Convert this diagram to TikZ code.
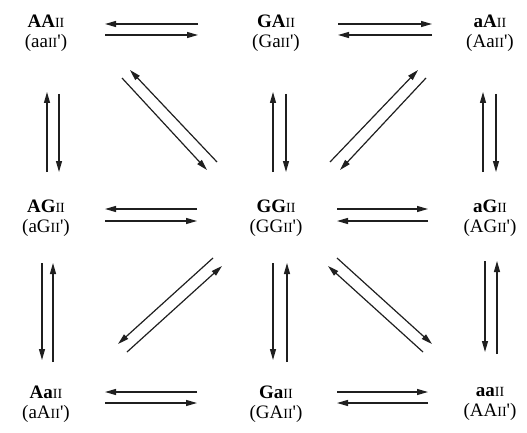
\documentclass[tikz,border=0pt]{standalone}
\usepackage{fontspec}
\setmainfont{Liberation Serif}
\usetikzlibrary{calc,arrows.meta}
% small capitals stand-in for the roman-numeral suffix
\newcommand{\rn}[1]{{\fontsize{14}{14}\selectfont #1}}
\newcommand{\pr}{\textquotesingle}
\tikzset{
  state/.style={align=center, inner sep=0pt, font=\fontsize{19}{20}\selectfont},
  rx/.style={draw=black!88, line width=1.2pt,
    -{Triangle[length=11pt,width=6pt]}}
}
\begin{document}
\begin{tikzpicture}[x=1pt,y=-1pt]
\useasboundingbox (0,0) rectangle (527,433);

% genotype states
\node[state] (AA) at (46,33)  {\textbf{AA}\rn{II}\\(aa\rn{II}\pr)};
\node[state] (GA) at (276,33) {\textbf{GA}\rn{II}\\(Ga\rn{II}\pr)};
\node[state] (aA) at (490,33) {\textbf{aA}\rn{II}\\(Aa\rn{II}\pr)};
\node[state] (AG) at (46,218) {\textbf{AG}\rn{II}\\(aG\rn{II}\pr)};
\node[state] (GG) at (276,218){\textbf{GG}\rn{II}\\(GG\rn{II}\pr)};
\node[state] (aG) at (490,218){\textbf{aG}\rn{II}\\(AG\rn{II}\pr)};
\node[state] (Aa) at (46,404) {\textbf{Aa}\rn{II}\\(aA\rn{II}\pr)};
\node[state] (Ga) at (276,404){\textbf{Ga}\rn{II}\\(GA\rn{II}\pr)};
\node[state] (aa) at (490,404){\textbf{aa}\rn{II}\\(AA\rn{II}\pr)};

% top row
\draw[rx] ($(GA)+(-78,-9)$) -- ($(AA)+(59,-9)$);
\draw[rx] ($(AA)+(59,2)$)   -- ($(GA)+(-78,2)$);
\draw[rx] ($(GA)+(62,-9)$)  -- ($(aA)+(-58,-9)$);
\draw[rx] ($(aA)+(-58,2)$)  -- ($(GA)+(62,2)$);

% middle row
\draw[rx] ($(GG)+(-79,-9)$) -- ($(AG)+(59,-9)$);
\draw[rx] ($(AG)+(59,3)$)   -- ($(GG)+(-79,3)$);
\draw[rx] ($(GG)+(61,-9)$)  -- ($(aG)+(-62,-9)$);
\draw[rx] ($(aG)+(-62,3)$)  -- ($(GG)+(61,3)$);

% bottom row
\draw[rx] ($(Ga)+(-79,-12)$) -- ($(Aa)+(59,-12)$);
\draw[rx] ($(Aa)+(59,-1)$)   -- ($(Ga)+(-79,-1)$);
\draw[rx] ($(Ga)+(61,-12)$)  -- ($(aa)+(-62,-12)$);
\draw[rx] ($(aa)+(-62,-1)$)  -- ($(Ga)+(61,-1)$);

% upper verticals
\draw[rx] ($(AG)+(1,-46)$)  -- ($(AA)+(1,59)$);
\draw[rx] ($(AA)+(13,61)$)  -- ($(AG)+(13,-46)$);
\draw[rx] ($(GG)+(-3,-46)$) -- ($(GA)+(-3,59)$);
\draw[rx] ($(GA)+(10,61)$)  -- ($(GG)+(10,-46)$);
\draw[rx] ($(aG)+(-7,-46)$) -- ($(aA)+(-7,59)$);
\draw[rx] ($(aA)+(6,61)$)   -- ($(aG)+(6,-46)$);

% lower verticals
\draw[rx] ($(AG)+(-4,45)$)  -- ($(Aa)+(-4,-44)$);
\draw[rx] ($(Aa)+(7,-42)$)  -- ($(AG)+(7,45)$);
\draw[rx] ($(GG)+(-3,45)$)  -- ($(Ga)+(-3,-44)$);
\draw[rx] ($(Ga)+(11,-42)$) -- ($(GG)+(11,45)$);
\draw[rx] ($(aG)+(-5,43)$)  -- ($(aa)+(-5,-52)$);
\draw[rx] ($(aa)+(7,-50)$)  -- ($(aG)+(7,43)$);

% diagonals
\draw[rx] ($(AA)+(76,45)$)  -- ($(GG)+(-69,-48)$);
\draw[rx] ($(GG)+(-59,-56)$) -- ($(AA)+(84,37)$);
\draw[rx] ($(GG)+(54,-56)$) -- ($(aA)+(-72,37)$);
\draw[rx] ($(aA)+(-64,45)$) -- ($(GG)+(64,-48)$);
\draw[rx] ($(GG)+(-63,40)$) -- ($(Aa)+(72,-60)$);
\draw[rx] ($(Aa)+(81,-52)$) -- ($(GG)+(-54,48)$);
\draw[rx] ($(GG)+(61,40)$)  -- ($(aa)+(-58,-60)$);
\draw[rx] ($(aa)+(-67,-52)$) -- ($(GG)+(52,48)$);
\end{tikzpicture}
\end{document}
